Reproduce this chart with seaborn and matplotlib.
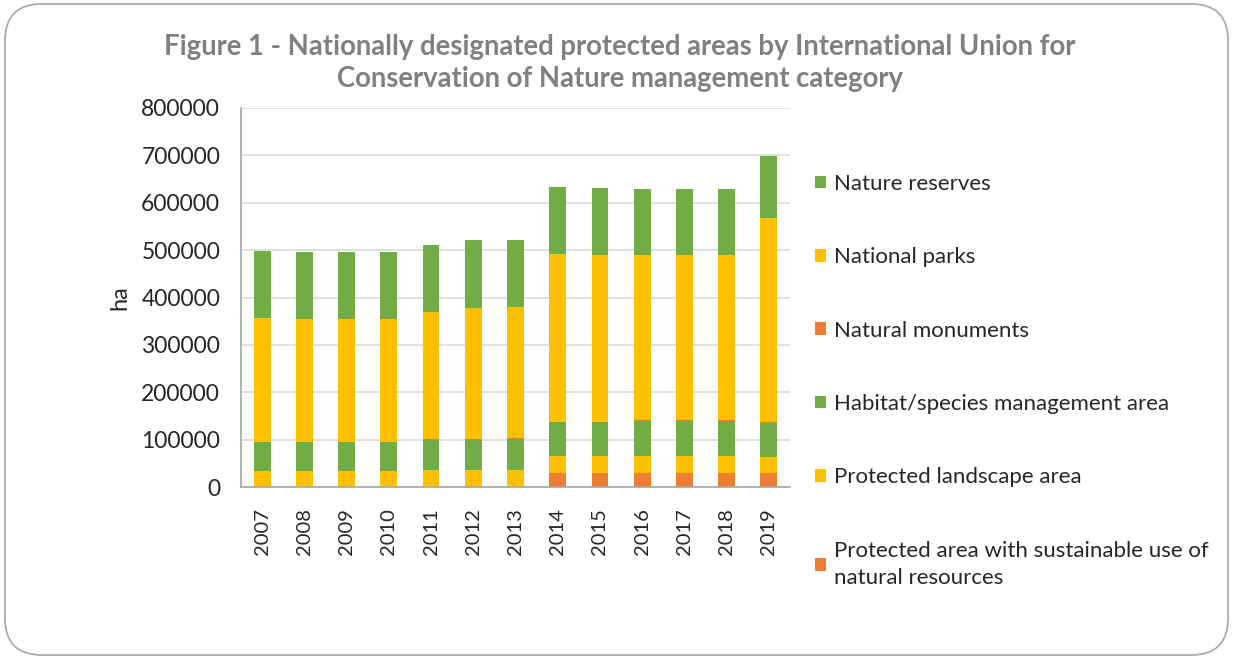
import numpy as np
import pandas as pd
import matplotlib
matplotlib.use("Agg")
import matplotlib.pyplot as plt
import seaborn as sns
from matplotlib.patches import Patch, FancyBboxPatch

years = ["2007", "2008", "2009", "2010", "2011", "2012", "2013",
         "2014", "2015", "2016", "2017", "2018", "2019"]

# stacking order bottom -> top
sustainable_use = [0, 0, 0, 0, 0, 0, 0, 30400, 30400, 30400, 30400, 30400, 30400]
landscape_area = [34400, 34400, 34400, 34400, 36500, 36500, 36500, 35000, 35000, 35000, 35000, 35000, 32800]
habitat_mgmt = [60600, 60600, 60600, 60600, 63500, 63500, 65000, 71100, 71700, 74500, 74500, 74500, 72500]
natural_monuments = [1000, 1000, 1000, 1000, 1000, 1000, 1000, 1000, 1000, 1000, 1000, 1000, 1000]
national_parks = [259900, 257800, 257800, 257800, 268200, 276600, 278400, 354000, 351400, 349100, 348600, 348600, 430800]
nature_reserves = [141600, 141200, 141200, 141200, 141300, 143400, 140600, 141400, 141300, 140000, 139200, 138500, 131500]

green = "#70AD47"
yellow = "#FFC000"
orange = "#ED7D31"

layers = [
    ("Protected area with sustainable use of\nnatural resources", sustainable_use, orange),
    ("Protected landscape area", landscape_area, yellow),
    ("Habitat/species management area", habitat_mgmt, green),
    ("Natural monuments", natural_monuments, orange),
    ("National parks", national_parks, yellow),
    ("Nature reserves", nature_reserves, green),
]

sns.set_style("white")
plt.rcParams["font.family"] = ["Lato", "DejaVu Sans"]

fig = plt.figure(figsize=(12.33, 6.59), dpi=100)
ax = fig.add_axes([241 / 1233, 1 - 487 / 659, 549 / 1233, 379 / 659])

bottom = np.zeros(len(years))
for name, vals, col in layers:
    sns.barplot(x=years, y=vals, bottom=bottom, color=col, saturation=1,
                width=0.4, ax=ax, linewidth=0)
    bottom = bottom + np.array(vals)

ax.set_ylim(0, 800000)
ax.set_xlim(-0.5, len(years) - 0.5)
ax.set_yticks(range(0, 800001, 100000))
ax.set_yticklabels([str(v) for v in range(0, 800001, 100000)], fontsize=16.5)
ax.tick_params(axis="x", labelrotation=90, labelsize=14.5, length=0, pad=15)
ax.tick_params(axis="y", length=0, pad=15)
ax.yaxis.grid(True, color="#D9D9D9", linewidth=1.2)
ax.set_axisbelow(True)
for s in ["top", "right"]:
    ax.spines[s].set_visible(False)
for s in ["left", "bottom"]:
    ax.spines[s].set_color("#A6A6A6")
    ax.spines[s].set_linewidth(1.2)
ax.set_ylabel("ha", fontsize=17, labelpad=8)
ax.set_xlabel("")

fig.text(620 / 1233, 1 - 63 / 659,
         "Figure 1 - Nationally designated protected areas by International Union for\n"
         "Conservation of Nature management category",
         ha="center", va="center", fontsize=19.8, fontweight="bold", color="#808080",
         linespacing=1.3)

handles = [Patch(facecolor=col, edgecolor="none", label=name) for name, _, col in layers[::-1]]
leg = fig.legend(handles=handles, loc="upper left", bbox_to_anchor=(806 / 1233, 1 - 165 / 659),
                 frameon=False, fontsize=16, handlelength=0.5, handleheight=0.5,
                 handletextpad=0.35, labelspacing=2.4, borderaxespad=0)
for t in leg.get_texts():
    t.set_linespacing(1.45)

border = FancyBboxPatch((0.004, 0.006), 0.992, 0.988, boxstyle="round,pad=0,rounding_size=0.03",
                        transform=fig.transFigure, facecolor="none", edgecolor="#A6A6A6",
                        linewidth=1.2, mutation_aspect=1233 / 659)
fig.patches.append(border)

fig.savefig("out.png", dpi=100)
